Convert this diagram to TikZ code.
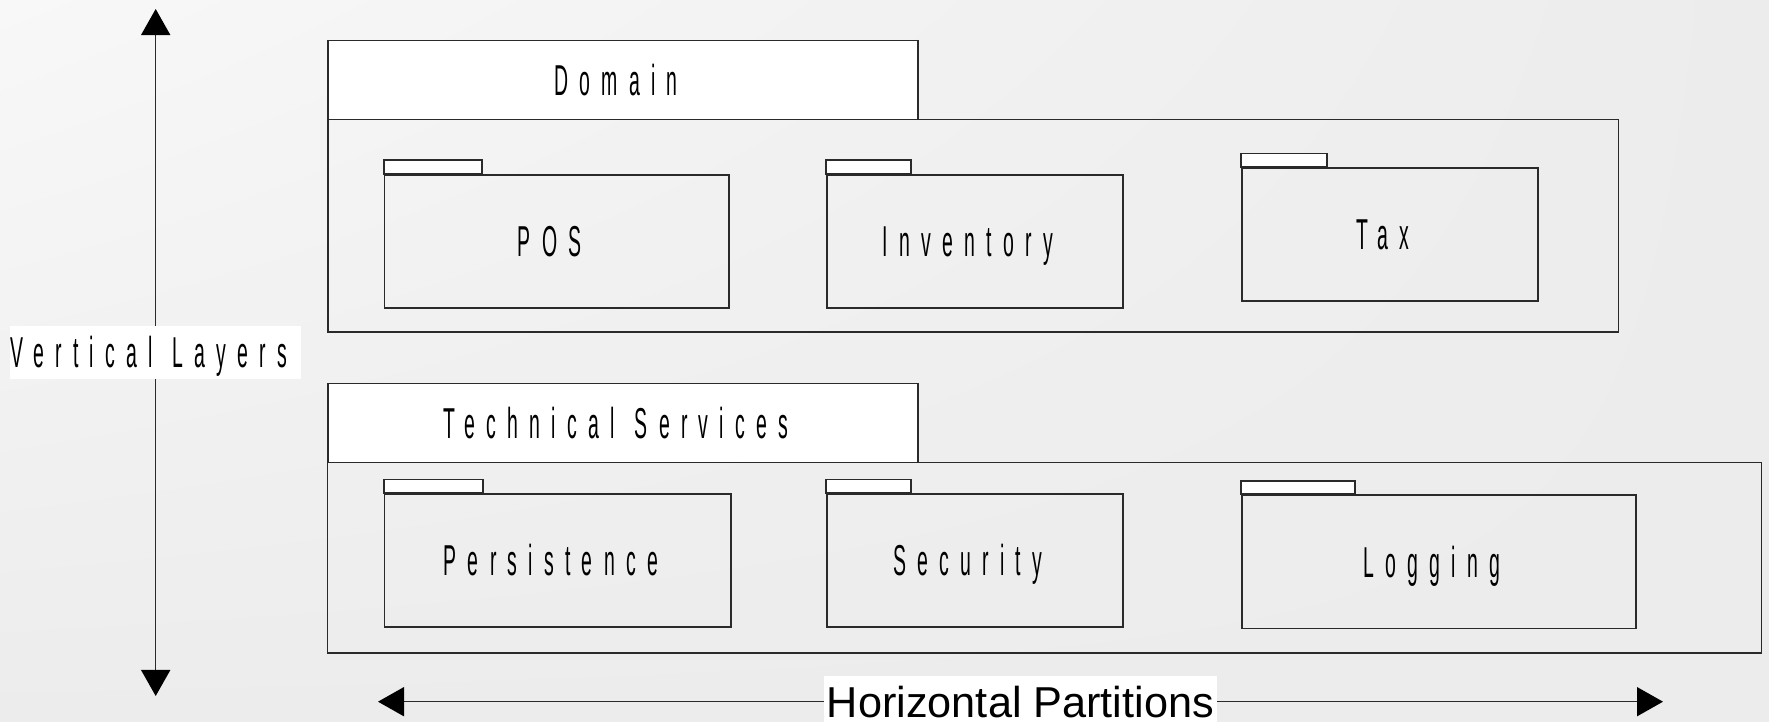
\documentclass[tikz,border=0pt]{standalone}
\usepackage{fontspec}
\setmainfont{Liberation Sans}
\newfontfamily\spacedfont[FakeStretch=0.45, LetterSpace=26, WordSpace=1.2]{Liberation Sans}
\usepackage{tikz}
\usetikzlibrary{arrows.meta}
\usetikzlibrary{shadings}

\definecolor{linec}{HTML}{2A2A2A}
\definecolor{bgmid}{HTML}{ECECEC}
\definecolor{bglight}{HTML}{F8F8F8}

\begin{document}
\begin{tikzpicture}[x=0.01cm, y=-0.01cm,
    spaced/.style={font=\spacedfont\fontsize{12.3pt}{14pt}\selectfont,
        execute at end node={\hspace{0.14cm}}},
    pkg/.style={draw=linec, line width=0.5pt, inner sep=0pt, spaced,
        text height=8.8pt, text depth=0pt},
    layertab/.style={pkg, fill=white, minimum width=5.9cm, minimum height=0.79cm},
    foldertab/.style={draw=linec, line width=0.5pt, fill=white},
    axis/.style={draw=linec, line width=0.45pt,
        {Triangle[length=0.26cm, width=0.29cm, color=black]}-{Triangle[length=0.26cm, width=0.29cm, color=black]}},
    axislabel/.style={fill=white, inner sep=0pt, text height=8.8pt, text depth=0pt}]

    % background
    \useasboundingbox (0,0) rectangle (1769,722);
    \shade[upper left=bglight, upper right=bgmid, lower left=bgmid, lower right=bgmid]
        (0,0) rectangle (1769,722);

    % Domain layer
    \node[pkg, minimum width=12.9cm, minimum height=2.121cm] (domain) at (973,225.65) {};
    \node[layertab] (domaintab) at (623,80.1) {Domain};

    \node[pkg, minimum width=3.441cm, minimum height=1.331cm] (pos) at (556.75,241.45) {POS};
    \draw[foldertab] (pos.north west) rectangle ++(98.2,-13.6);
    \node[pkg, minimum width=2.956cm, minimum height=1.331cm] (inventory) at (974.8,241.45) {Inventory};
    \draw[foldertab] (inventory.north west) rectangle ++(84.6,-13.6);
    \node[pkg, minimum width=2.957cm, minimum height=1.33cm] (tax) at (1389.85,234.5) {Tax};
    \draw[foldertab] (tax.north west) rectangle ++(86,-13.6);

    % Technical Services layer
    \node[pkg, minimum width=14.33cm, minimum height=1.904cm] (services) at (1044.5,557.8) {};
    \node[layertab] (servicestab) at (623,423.1) {Technical Services};

    \node[pkg, minimum width=3.463cm, minimum height=1.33cm] (persistence) at (557.85,560.5) {Persistence};
    \draw[foldertab] (persistence.north west) rectangle ++(99.3,-13.6);
    \node[pkg, minimum width=2.956cm, minimum height=1.33cm] (security) at (974.8,560.5) {Security};
    \draw[foldertab] (security.north west) rectangle ++(84.6,-13.6);
    \node[pkg, minimum width=3.94cm, minimum height=1.331cm] (logging) at (1439,561.85) {Logging};
    \draw[foldertab] (logging.north west) rectangle ++(114,-13.6);

    % axes
    \coordinate (vtop) at (155.7,9);
    \coordinate (vbottom) at (155.7,696);
    \draw[axis] (vtop) -- (vbottom)
        node[midway, axislabel, spaced,
             minimum width=2.9cm, minimum height=0.53cm] (vlabel) {Vertical Layers};

    \coordinate (hleft) at (378,701.7);
    \coordinate (hright) at (1663,701.7);
    \draw[axis] (hleft) -- (hright)
        node[midway, axislabel, font=\fontsize{12.3pt}{14pt}\selectfont,
             minimum width=3.92cm, minimum height=0.51cm] (hlabel) {Horizontal Partitions};
\end{tikzpicture}
\end{document}
